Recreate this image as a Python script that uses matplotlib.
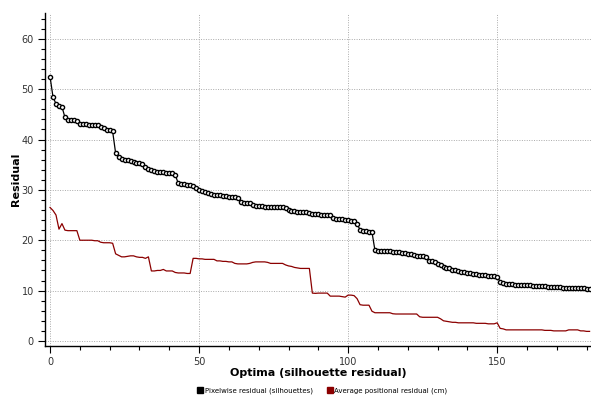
import matplotlib
matplotlib.use("Agg")
import matplotlib.pyplot as plt
from matplotlib.ticker import MultipleLocator
from matplotlib.lines import Line2D
import numpy as np

pixelwise = [
    52.5, 48.4, 47.1, 46.7, 46.5, 44.4, 43.8, 43.8, 43.8, 43.7,
    43.1, 43.0, 43.0, 42.9, 42.9, 42.9, 42.8, 42.5, 42.2, 41.9,
    41.8, 41.6, 37.3, 36.6, 36.1, 35.9, 35.9, 35.8, 35.6, 35.4,
    35.3, 35.2, 34.6, 34.2, 34.0, 33.7, 33.6, 33.5, 33.5, 33.4,
    33.4, 33.3, 33.0, 31.3, 31.2, 31.1, 31.0, 30.9, 30.8, 30.3,
    29.9, 29.8, 29.6, 29.4, 29.2, 29.0, 28.9, 28.9, 28.8, 28.7,
    28.6, 28.5, 28.5, 28.4, 27.6, 27.4, 27.4, 27.3, 27.0, 26.8,
    26.7, 26.7, 26.6, 26.6, 26.6, 26.5, 26.5, 26.5, 26.5, 26.4,
    26.1, 25.9, 25.8, 25.7, 25.7, 25.6, 25.6, 25.5, 25.3, 25.2,
    25.2, 25.1, 25.1, 25.0, 25.0, 24.4, 24.3, 24.2, 24.2, 24.1,
    24.0, 23.9, 23.8, 23.2, 22.1, 21.9, 21.8, 21.7, 21.6, 18.0,
    17.9, 17.9, 17.8, 17.8, 17.8, 17.7, 17.7, 17.6, 17.5, 17.4,
    17.3, 17.2, 17.0, 16.9, 16.9, 16.8, 16.6, 15.9, 15.8, 15.7,
    15.2, 15.0, 14.6, 14.5, 14.4, 14.1, 14.0, 13.8, 13.7, 13.6,
    13.5, 13.4, 13.3, 13.2, 13.1, 13.1, 13.0, 12.9, 12.8, 12.8,
    12.7, 11.8, 11.5, 11.3, 11.3, 11.3, 11.2, 11.2, 11.2, 11.2,
    11.1, 11.1, 11.0, 11.0, 10.9, 10.9, 10.9, 10.8, 10.8, 10.8,
    10.7, 10.7, 10.6, 10.6, 10.6, 10.5, 10.5, 10.5, 10.5, 10.5,
    10.4, 10.4,
]

positional = [
    26.5, 25.9, 25.0, 22.2, 23.3, 22.0, 21.9, 21.9, 21.9, 21.9,
    20.0, 20.0, 20.0, 20.0, 20.0, 19.9, 19.9, 19.6, 19.5, 19.5,
    19.5, 19.4, 17.3, 17.0, 16.7, 16.7, 16.8, 16.9, 16.9, 16.7,
    16.6, 16.6, 16.4, 16.7, 13.9, 13.9, 14.0, 14.0, 14.2, 13.9,
    13.9, 13.9, 13.6, 13.5, 13.5, 13.5, 13.4, 13.4, 16.4, 16.4,
    16.3, 16.3, 16.2, 16.2, 16.2, 16.2, 15.9, 15.9, 15.8, 15.8,
    15.7, 15.7, 15.4, 15.3, 15.3, 15.3, 15.3, 15.4, 15.6, 15.7,
    15.7, 15.7, 15.7, 15.6, 15.4, 15.4, 15.4, 15.4, 15.4, 15.1,
    14.9, 14.8, 14.6, 14.5, 14.4, 14.4, 14.4, 14.4, 9.5, 9.45,
    9.5, 9.5, 9.5, 9.5, 8.9, 8.9, 8.9, 8.9, 8.8, 8.7,
    9.1, 9.1, 9.0, 8.4, 7.2, 7.1, 7.1, 7.1, 5.9, 5.6,
    5.6, 5.6, 5.6, 5.6, 5.6, 5.4, 5.35, 5.35, 5.35, 5.35,
    5.35, 5.35, 5.35, 5.35, 4.8, 4.7, 4.7, 4.7, 4.7, 4.7,
    4.7, 4.4, 4.0, 3.9, 3.8, 3.7, 3.7, 3.6, 3.6, 3.6,
    3.6, 3.6, 3.6, 3.5, 3.5, 3.5, 3.5, 3.4, 3.4, 3.4,
    3.6, 2.5, 2.4, 2.2, 2.2, 2.2, 2.2, 2.2, 2.2, 2.2,
    2.2, 2.2, 2.2, 2.2, 2.2, 2.2, 2.1, 2.1, 2.1, 2.0,
    2.0, 2.0, 2.0, 2.0, 2.2, 2.2, 2.2, 2.2, 2.0, 2.0,
    1.9, 1.9,
]

series_labels = ["Pixelwise residual (silhouettes)", "Average positional residual (cm)"]
x_label = "Optima (silhouette residual)"
y_label = "Residual"

x = np.arange(len(pixelwise))

fig = plt.figure(figsize=(5.91, 3.97), dpi=100)
ax = fig.add_axes([0.0761, 0.1285, 0.924, 0.8385])

ax.plot(x, positional, color="#8b0000", lw=0.9, zorder=3)
ax.plot(x, pixelwise, color="black", lw=0.9, marker="o", markersize=3.0,
        markerfacecolor="white", markeredgecolor="black", markeredgewidth=1.0, zorder=4)

ax.set_xlim(-1.7, 181.5)
ax.set_ylim(-1.0, 65.1)
ax.xaxis.set_major_locator(MultipleLocator(50))
ax.xaxis.set_minor_locator(MultipleLocator(10))
ax.yaxis.set_major_locator(MultipleLocator(10))
ax.yaxis.set_minor_locator(MultipleLocator(2))

ax.grid(True, which="major", color="#aaaaaa", linestyle=(0, (1, 1.5)), linewidth=0.7)
for s in ["top", "right"]:
    ax.spines[s].set_visible(False)
for s in ["left", "bottom"]:
    ax.spines[s].set_linewidth(1.0)

ax.tick_params(axis="both", which="major", length=5, width=0.8, labelsize=7, labelcolor="#333333", pad=3)
ax.tick_params(axis="both", which="minor", length=3, width=0.8)

ax.set_xlabel(x_label, fontsize=8, fontweight="bold", labelpad=1)
ax.set_ylabel(y_label, fontsize=8, fontweight="bold", labelpad=0)

handles = [
    Line2D([], [], marker="s", linestyle="none", color="black", markersize=4.5),
    Line2D([], [], marker="s", linestyle="none", color="#8b0000", markersize=4.5),
]
fig.legend(handles, series_labels, loc="center", bbox_to_anchor=(0.545, 0.015), ncol=2,
           frameon=False, fontsize=5, handletextpad=0.1, columnspacing=2.0, handlelength=1.0,
           borderaxespad=0, borderpad=0)

fig.savefig("out.png", dpi=100)
